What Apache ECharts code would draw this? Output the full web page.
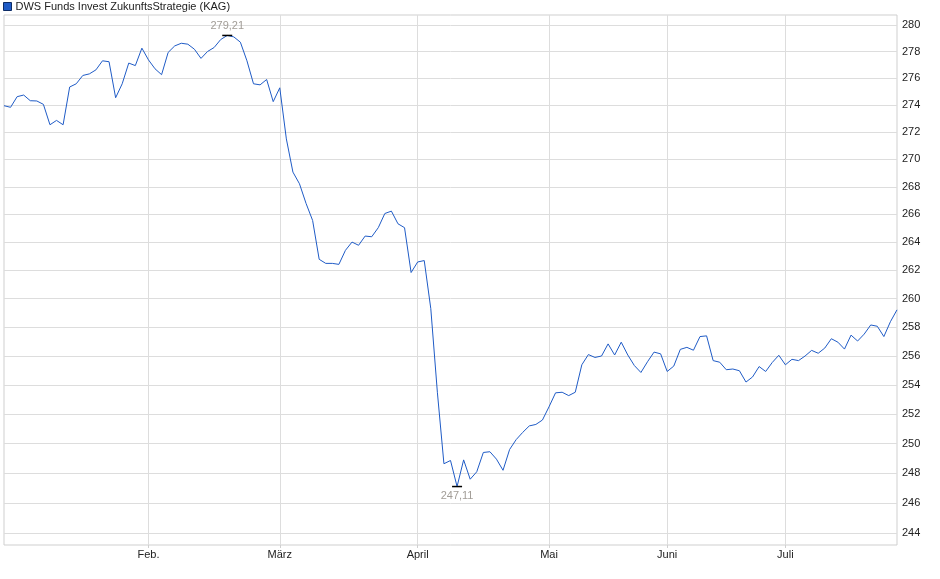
<!DOCTYPE html>
<html>
<head>
<meta charset="utf-8">
<script src="https://cdn.jsdelivr.net/npm/echarts@6/dist/echarts.min.js"></script>
<style>
  html, body { margin: 0; padding: 0; background: #fff; }
  #chart { width: 940px; height: 579px; }
</style>
</head>
<body>
<div id="chart"></div>
<script>
// Kurs je Handelstag, nach Monat
var jan = [273.95, 273.83, 274.62, 274.74, 274.32, 274.30, 274.05, 272.54, 272.86, 272.54, 275.34,
           275.58, 276.20, 276.32, 276.62, 277.30, 277.23, 274.54, 275.58, 277.13, 276.94, 278.25];
var feb = [277.37, 276.70, 276.26, 277.93, 278.42, 278.62, 278.55, 278.17, 277.48, 278.00,
           278.30, 278.90, 279.21, 279.10, 278.70, 277.30, 275.58, 275.50, 275.90, 274.25];
var mar = [275.28, 271.50, 269.07, 268.22, 266.80, 265.57, 262.79, 262.50, 262.50, 262.43, 263.43,
           264.02, 263.79, 264.45, 264.40, 265.05, 266.07, 266.24, 265.33, 265.05, 261.85];
var apr = [262.60, 262.70, 259.30, 253.50, 248.64, 248.86, 247.11, 248.90, 247.60, 248.10,
           249.40, 249.45, 248.95, 248.20, 249.60, 250.27, 250.76, 251.20, 251.30, 251.60];
var mai = [252.50, 253.46, 253.50, 253.27, 253.50, 255.39, 256.10, 255.90, 256.00,
           256.84, 256.07, 256.96, 256.07, 255.34, 254.86, 255.60, 256.27, 256.15];
var jun = [254.93, 255.30, 256.46, 256.60, 256.40, 257.35, 257.40, 255.68, 255.57,
           255.05, 255.10, 254.98, 254.20, 254.55, 255.27, 254.93, 255.55, 256.05];
var jul = [255.39, 255.77, 255.68, 256.00, 256.39, 256.19, 256.55, 257.20, 256.96,
           256.48, 257.45, 257.04, 257.52, 258.16, 258.07, 257.35, 258.39, 259.22];

var monthLabels = ['', 'Feb.', 'März', 'April', 'Mai', 'Juni', 'Juli'];
var yTicks = [244, 246, 248, 250, 252, 254, 256, 258, 260, 262, 264, 266, 268, 270, 272, 274, 276, 278, 280];
var seriesName = 'DWS Funds Invest ZukunftsStrategie (KAG)';

var months = [jan, feb, mar, apr, mai, jun, jul];
var categories = [];
var values = [];
var monthStart = {};   // index -> Monatsname
months.forEach(function (m, mi) {
    m.forEach(function (v, j) {
        if (j === 0) monthStart[categories.length] = monthLabels[mi];
        categories.push(mi + '-' + j);
        values.push(v);
    });
});
var isMonthTick = function (index) {
    return !!monthStart[index];
};
var fmt = function (v) {
    return v.toFixed(2).replace('.', ',');
};

var font = 'Arial, "Liberation Sans", sans-serif';
var chart = echarts.init(document.getElementById('chart'));
chart.setOption({
    animation: false,
    legend: {
        left: 1,
        top: -1,
        padding: 2,
        icon: 'rect',
        itemWidth: 8,
        itemHeight: 8,
        itemGap: 4,
        itemStyle: { borderColor: '#0d2c66', borderWidth: 1 },
        textStyle: { fontSize: 11, color: '#222', fontFamily: font, padding: [0, 0, 0, -1] },
        data: [seriesName]
    },
    grid: {
        left: 4,
        right: 43,
        top: 15,
        bottom: 34,
        show: true,
        borderColor: '#cfcfcf',
        borderWidth: 1
    },
    xAxis: {
        type: 'category',
        boundaryGap: false,
        data: categories,
        axisLine: { show: false },
        axisTick: { show: true, interval: isMonthTick, length: 3, lineStyle: { color: '#cfcfcf' } },
        axisLabel: {
            interval: isMonthTick,
            formatter: function (val, idx) { return monthStart[idx] || ''; },
            fontSize: 11,
            color: '#222',
            fontFamily: font,
            margin: 4
        },
        splitLine: { show: true, interval: isMonthTick, lineStyle: { color: '#dddddd' } }
    },
    yAxis: {
        type: 'log',
        logBase: 10,
        position: 'right',
        min: 243.23,
        max: 280.76,
        axisLine: { show: false },
        axisTick: { show: false, customValues: yTicks },
        axisLabel: {
            customValues: yTicks,
            formatter: function (v) { return String(Math.round(v)); },
            fontSize: 11,
            color: '#222',
            fontFamily: font,
            margin: 5
        },
        splitLine: { show: true, customValues: yTicks, lineStyle: { color: '#dddddd' } }
    },
    series: [{
        name: seriesName,
        type: 'line',
        data: values,
        symbol: 'none',
        color: '#1f5bc6',
        lineStyle: { width: 1, color: '#1f5bc6' },
        markPoint: {
            symbol: 'rect',
            symbolSize: [10, 1.5],
            itemStyle: { color: '#000' },
            label: {
                show: true,
                fontSize: 11,
                color: '#a29d97',
                fontFamily: font,
                distance: 3,
                formatter: function (p) { return fmt(p.value); }
            },
            data: [
                { type: 'max', label: { position: 'top' } },
                { type: 'min', label: { position: 'bottom' } }
            ]
        }
    }]
});
</script>
</body>
</html>
